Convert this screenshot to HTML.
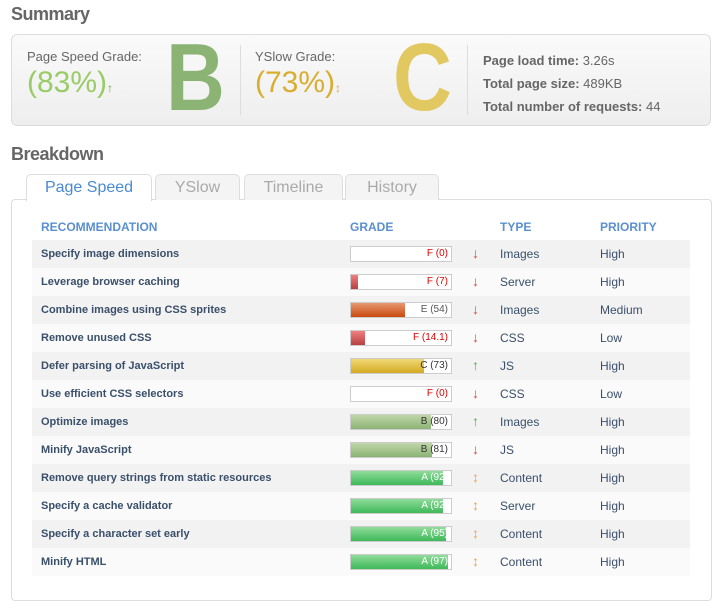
<!DOCTYPE html><html><head><style>
body{margin:0;width:717px;height:574px;overflow:hidden;background:#fff;font-family:"Liberation Sans",sans-serif;position:relative}
.a{position:absolute}
h2{position:absolute;margin:0;font-size:18px;color:#666;font-weight:bold;letter-spacing:-0.5px}
.box{left:11px;top:34px;width:698px;height:90px;border:1px solid #ddd;border-radius:6px;background:linear-gradient(#fafafa,#eee)}
.lbl{font-size:13px;color:#666}
.tab{top:174px;height:25px;border:1px solid #ddd;border-bottom:none;border-radius:5px 5px 0 0;background:#f4f4f4;color:#aaa;font-size:16px;text-align:center;line-height:26px}
.row{left:32px;width:658px;height:28px;font-size:11px}
.row .r{position:absolute;left:9px;top:8px;font-weight:bold;color:#3a4f6a}
.bar{position:absolute;left:318px;top:6px;width:100px;height:14px;border:1px solid #ccc;background:#fff}
.bar i{position:absolute;left:0;top:0;bottom:0}
.bar b{position:absolute;right:3px;top:1px;font-weight:normal;font-size:10px}
.ar{position:absolute;left:440px;top:5px;font-size:14px;font-weight:bold}
.ty{position:absolute;left:468px;top:7px;font-size:12px;color:#3a4f6a}
.pr{position:absolute;left:568px;top:7px;font-size:12px;color:#3a4f6a}
</style></head><body>
<h2 style="left:11px;top:4px">Summary</h2>
<div class="a box"></div>
<div class="a lbl" style="left:27px;top:49px">Page Speed Grade:</div>
<div class="a" style="left:27px;top:66px;font-size:30px;color:#9c6">(83%)<span style="font-size:12px;color:#6a4">↑</span></div>
<div class="a" style="left:166px;top:28px;font-size:96px;font-weight:bold;color:#8bb374;line-height:100px;transform:scaleX(0.85);transform-origin:left">B</div>
<div class="a" style="left:240px;top:45px;width:1px;height:70px;background:#ddd"></div>
<div class="a lbl" style="left:255px;top:49px">YSlow Grade:</div>
<div class="a" style="left:255px;top:66px;font-size:30px;color:#d9ad2e">(73%)<span style="font-size:12px;color:#e9a050">↕</span></div>
<div class="a" style="left:393px;top:28px;font-size:96px;font-weight:bold;color:#e2c860;line-height:100px;transform:scaleX(0.85);transform-origin:left">C</div>
<div class="a" style="left:467px;top:45px;width:1px;height:70px;background:#ddd"></div>
<div class="a lbl" style="left:483px;top:49px;line-height:23px"><b>Page load time:</b> 3.26s<br><b>Total page size:</b> 489KB<br><b>Total number of requests:</b> 44</div>
<h2 style="left:11px;top:144px">Breakdown</h2>
<div class="a" style="left:11px;top:199px;width:699px;height:400px;border:1px solid #ddd;border-radius:4px"></div>
<div class="a tab" style="left:26px;width:124px;background:#fff;color:#4a8ad0;height:26px">Page Speed</div>
<div class="a tab" style="left:155px;width:83px">YSlow</div>
<div class="a tab" style="left:244px;width:97px">Timeline</div>
<div class="a tab" style="left:345px;width:92px">History</div>
<div class="a" style="top:220px;left:41px;font-size:12px;color:#5b8fd0;font-weight:bold">RECOMMENDATION</div>
<div class="a" style="top:220px;left:350px;font-size:12px;color:#5b8fd0;font-weight:bold">GRADE</div>
<div class="a" style="top:220px;left:500px;font-size:12px;color:#5b8fd0;font-weight:bold">TYPE</div>
<div class="a" style="top:220px;left:600px;font-size:12px;color:#5b8fd0;font-weight:bold">PRIORITY</div>
<div id="t"></div>
<script>
var R=[["Specify image dimensions",0,"F (0)","d","Images","High"],["Leverage browser caching",7,"F (7)","d","Server","High"],["Combine images using CSS sprites",54,"E (54)","d","Images","Medium"],["Remove unused CSS",14.1,"F (14.1)","d","CSS","Low"],["Defer parsing of JavaScript",73,"C (73)","u","JS","High"],["Use efficient CSS selectors",0,"F (0)","d","CSS","Low"],["Optimize images",80,"B (80)","u","Images","High"],["Minify JavaScript",81,"B (81)","d","JS","High"],["Remove query strings from static resources",92,"A (92)","n","Content","High"],["Specify a cache validator",92,"A (92)","n","Server","High"],["Specify a character set early",95,"A (95)","n","Content","High"],["Minify HTML",97,"A (97)","n","Content","High"]];
var h="";R.forEach(function(r,i){var v=r[1],c,tc;
if(v>=90){c="linear-gradient(#8fdc9a,#3fb85a)";tc="#fff"}else if(v>=80){c="linear-gradient(#c0d6a8,#8bb374)";tc="#333"}else if(v>=70){c="linear-gradient(#f0d878,#d4aa20)";tc="#333"}else if(v>=50){c="linear-gradient(#e89870,#c84a10)";tc="#555"}else{c="linear-gradient(#f08080,#b84040)";tc="#d00"}
var a=r[3]=="d"?'<span style="color:#d44">↓</span>':r[3]=="u"?'<span style="color:#5a5">↑</span>':'<span style="color:#e9a050">↕</span>';
h+='<div class="a row" style="top:'+(240+i*28)+'px;background:'+(i%2?'#fafafa':'#f2f2f2')+'"><span class="r">'+r[0]+'</span><div class="bar"><i style="width:'+v+'%;background:'+c+'"></i><b style="color:'+tc+'">'+r[2]+'</b></div><span class="ar">'+a+'</span><span class="ty">'+r[4]+'</span><span class="pr">'+r[5]+'</span></div>'});
document.getElementById("t").innerHTML=h;
</script>
</body></html>
